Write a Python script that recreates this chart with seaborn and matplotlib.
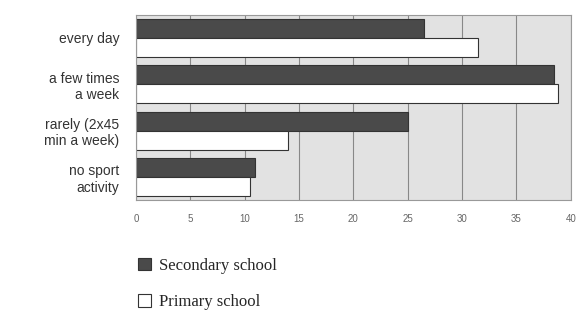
import numpy as np
import pandas as pd
import matplotlib
matplotlib.use('Agg')
import matplotlib.pyplot as plt
import seaborn as sns

# values
categories = ['every day', 'a few times\na week', 'rarely (2x45\nmin a week)', 'no sport\nactivity']
secondary = [26.5, 38.5, 25.0, 11.0]
primary = [31.5, 38.8, 14.0, 10.5]
series = ['Secondary school', 'Primary school']
xticks = [0, 5, 10, 15, 20, 25, 30, 35, 40]

df = pd.DataFrame({
    'activity': categories * 2,
    'value': secondary + primary,
    'school': [series[0]] * 4 + [series[1]] * 4,
})

sns.set_style('white')
plt.rcParams['font.family'] = ['Liberation Sans', 'DejaVu Sans']

fig = plt.figure(figsize=(5.83, 3.16), dpi=100)
ax = fig.add_axes([0.233, 0.367, 0.746, 0.586])

sns.barplot(data=df, x='value', y='activity', hue='school', orient='h',
            palette={series[0]: '#4a4a4a', series[1]: 'white'},
            edgecolor='#333333', linewidth=0.8, width=0.82, gap=0.0,
            ax=ax)

ax.set_facecolor('#e2e2e2')
ax.set_xlim(0, 40)
ax.set_xticks(xticks)
ax.set_xticklabels([str(t) for t in xticks], fontsize=7, color='#666666')
ax.tick_params(axis='y', labelsize=10, length=0, pad=12, colors='#333333')
ax.tick_params(axis='x', length=0, pad=10)
ax.grid(axis='x', color='#888888', linewidth=0.8)
ax.set_axisbelow(True)
ax.set_xlabel('')
ax.set_ylabel('')
for s in ax.spines.values():
    s.set_color('#999999')
    s.set_linewidth(0.8)

ax.legend(loc='upper left', bbox_to_anchor=(-0.03, -0.23), frameon=False,
          prop={'family': 'Liberation Serif', 'size': 12}, labelspacing=1.2,
          handlelength=0.8, handleheight=0.8, handletextpad=0.5)

fig.savefig('out.png', dpi=100)
